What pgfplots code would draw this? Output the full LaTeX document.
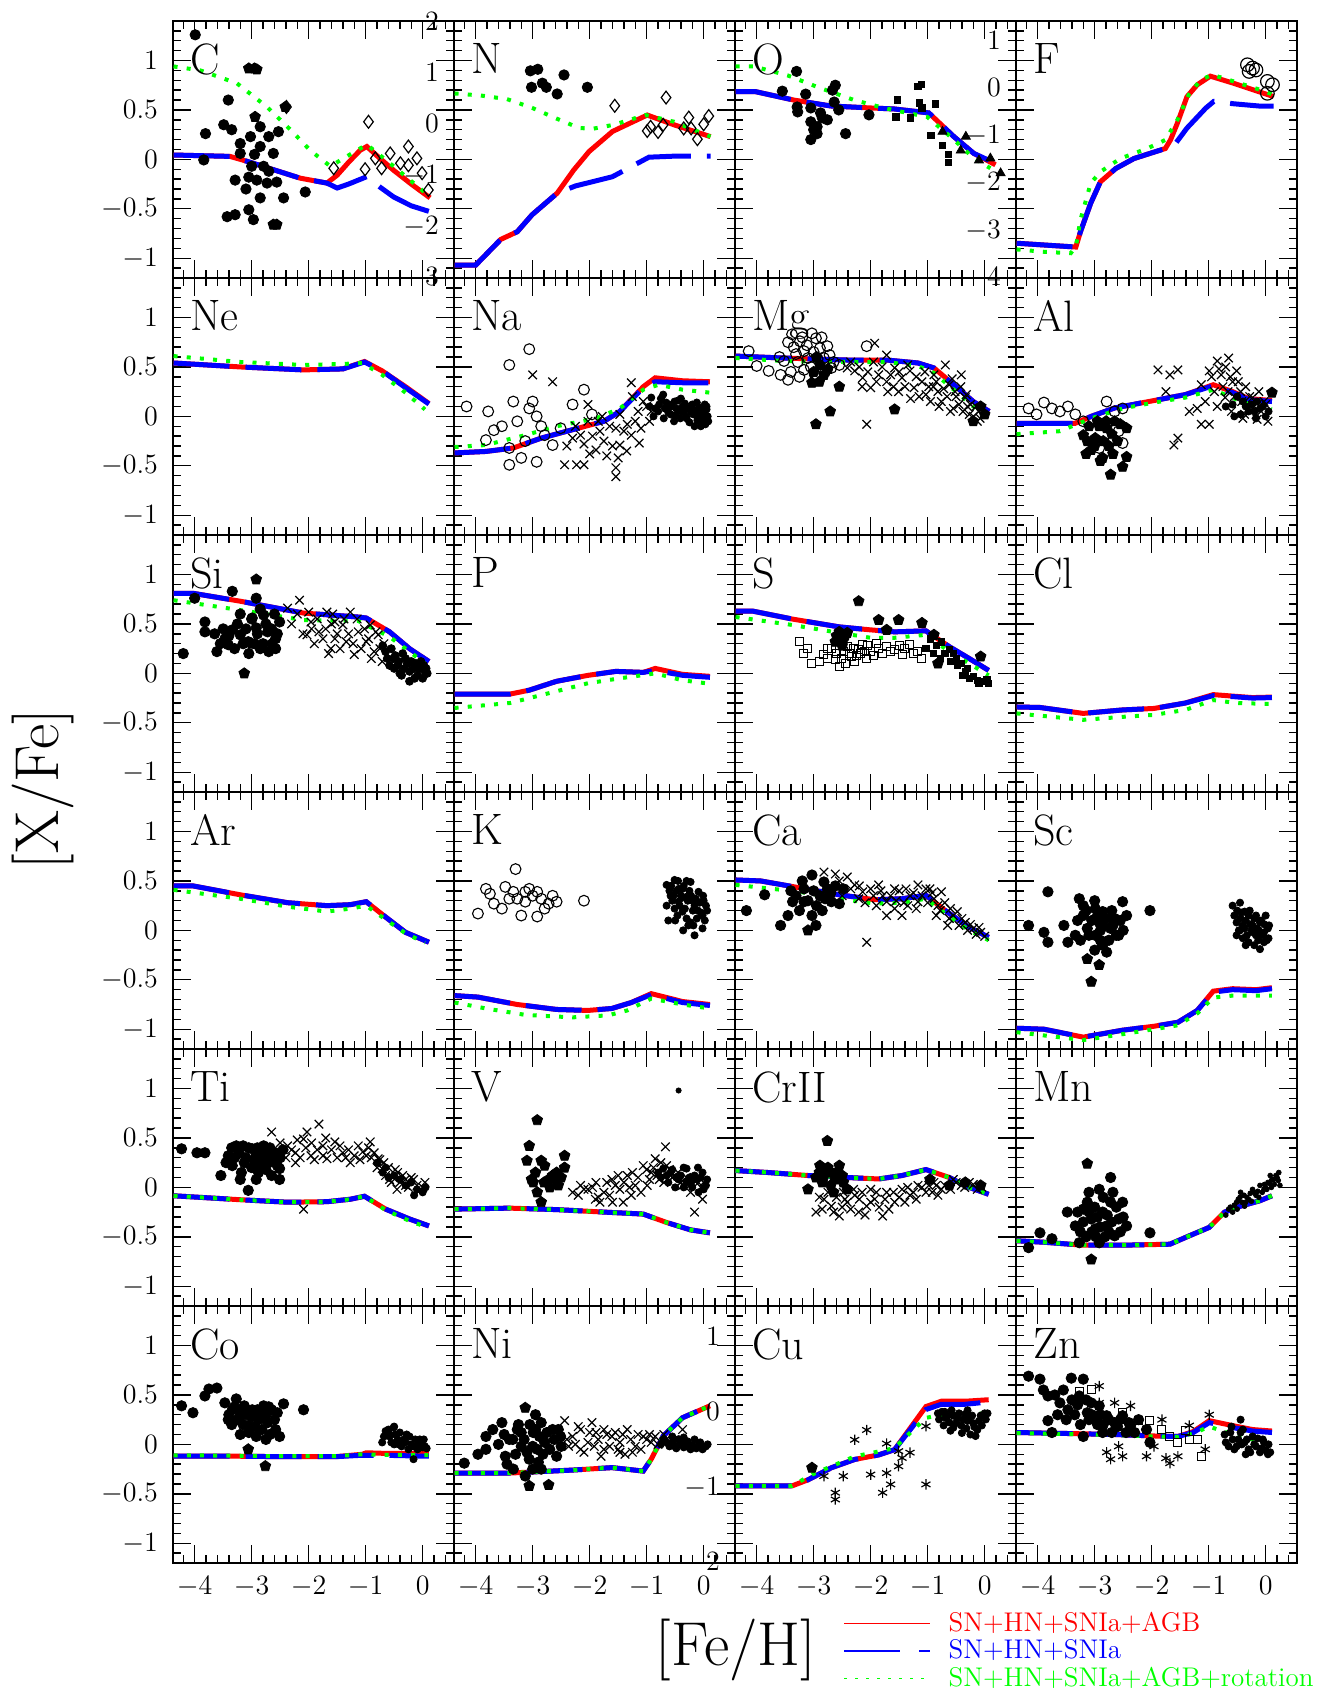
\RequirePackage{fix-cm}
\documentclass[border=0pt]{standalone}
\usepackage{pgfplots}
\pgfplotsset{compat=1.18}
\pgfplotsset{
  panel/.style={
    scale only axis, width=140.5pt, height=128.5pt,
    xmin=-4.38, xmax=0.55, ymin=-1.2, ymax=1.4,
    anchor=south west,
    axis line style={line width=1pt},
    tick style={black, line width=0.7pt},
    major tick length=9pt, minor tick length=4pt,
    tick align=inside, tick pos=both,
    xtick={-4,-3,-2,-1,0},
    minor xtick={-4.2,-3.8,-3.6,-3.4,-3.2,-2.8,-2.6,-2.4,-2.2,-1.8,-1.6,-1.4,-1.2,-0.8,-0.6,-0.4,-0.2,0.2,0.4},
    ytick={-1,-0.5,0,0.5,1},
    minor ytick={-1.1,-0.9,-0.8,-0.7,-0.6,-0.4,-0.3,-0.2,-0.1,0.1,0.2,0.3,0.4,0.6,0.7,0.8,0.9,1.1,1.2,1.3},
    xticklabels={}, yticklabels={},
    tick label style={font=\fontsize{14}{16}\selectfont},
    yticklabel style={xshift=-4pt},
    xticklabel style={yshift=-3.2pt},
    clip=true,
  },
  over/.style={
    scale only axis, width=140.5pt, height=128.5pt,
    xmin=-4.38, xmax=0.55, anchor=south west,
    axis line style={draw=none}, xtick=\empty,
    major tick length=0pt, minor tick length=0pt, tick style={draw=none},
    tick label style={font=\fontsize{14}{16}\selectfont},
    yticklabel style={xshift=-4pt}, clip=true,
  },
  leftcol/.style={yticklabels={$-1$,$-0.5$,$0$,$0.5$,$1$}},
  botrow/.style={xticklabels={$-4$,$-3$,$-2$,$-1$,$0$}},
  mred/.style={red, line width=2.5pt, no markers},
  mblue/.style={blue, line width=2.5pt, no markers, dash pattern=on 28pt off 8pt},
  mgreen/.style={green, line width=2pt, no markers, dash pattern=on 2pt off 4.6pt},
  fc/.style={only marks, mark=*, mark size=2.6pt, black},
  fp/.style={only marks, mark=pentagon*, mark size=2.8pt, black},
  oc/.style={only marks, mark=o, mark size=2.7pt, black, mark options={line width=0.55pt}},
  boc/.style={only marks, mark=o, mark size=3.4pt, black, mark options={line width=0.6pt}},
  od/.style={only marks, mark=diamond, mark size=3.2pt, black, mark options={line width=0.6pt}},
  cr/.style={only marks, mark=x, mark size=3pt, black, mark options={line width=0.6pt}},
  fs/.style={only marks, mark=square*, mark size=1.6pt, black},
  os/.style={only marks, mark=square, mark size=2pt, black, mark options={line width=0.5pt}},
  as/.style={only marks, mark=asterisk, mark size=2.6pt, black, mark options={line width=0.6pt}},
  ft/.style={only marks, mark=triangle*, mark size=2.6pt, black},
  sd/.style={only marks, mark=*, mark size=1.3pt, black},
  md/.style={only marks, mark=*, mark size=1.8pt, black},
}
\newcommand{\el}[1]{\node[anchor=north west, inner sep=0pt, xshift=8.5pt, yshift=-11pt, font=\fontsize{22}{22}\selectfont] at (rel axis cs:0,1) {#1};}
\begin{document}
\begin{tikzpicture}
\useasboundingbox (0,0) rectangle (666.5pt,844.5pt);

% ---------------- Row 1 ----------------
% C
\begin{axis}[panel, leftcol, at={(86.5pt,705.5pt)}]
\addplot[mred] coordinates {(-4.37,0.044)(-3.38,0.03)(-3.08,-0.02)(-2.15,-0.19)(-1.68,-0.24)(-1.5,-0.16)(-1.3,-0.03)(-1.1,0.09)(-0.98,0.13)(-0.75,0.01)(-0.51,-0.11)(-0.2,-0.25)(0.13,-0.39)};
\addplot[mblue] coordinates {(-4.37,0.044)(-3.38,0.03)(-3.08,-0.02)(-2.15,-0.19)(-1.68,-0.24)(-1.5,-0.29)(-1.3,-0.25)(-0.98,-0.175)(-0.75,-0.28)(-0.51,-0.38)(-0.2,-0.47)(0.13,-0.53)};
\addplot[mgreen] coordinates {(-4.37,0.94)(-3.9,0.9)(-3.26,0.77)(-2.73,0.53)(-2.32,0.30)(-1.97,0.09)(-1.62,-0.07)(-1.33,0.03)(-0.98,0.15)(-0.51,-0.07)(0.13,-0.38)};
\addplot[fc] coordinates {(-3.99,1.26)(-3.41,0.60)(-2.85,0.33)(-3.49,0.35)(-3.35,0.30)(-3.81,0.26)(-2.70,0.23)(-2.53,0.28)(-3.02,0.23)(-3.2,0.16)(-2.85,0.13)(-3.2,0.06)(-2.62,0.06)(-3.84,-0.006)(-3.0,-0.07)(-2.79,-0.07)(-3.29,-0.21)(-3.05,-0.18)(-2.91,-0.21)(-2.56,-0.23)(-2.73,-0.24)(-2.06,-0.33)(-2.85,-0.39)(-2.44,-0.39)(-3.43,-0.58)(-3.29,-0.56)(-3.05,-0.51)(-2.97,-0.61)(-3.1,-0.3)(-2.95,0.05)(-2.7,-0.12)};
\addplot[fp] coordinates {(-3.05,0.92)(-2.95,0.92)(-2.91,0.91)(-2.41,0.53)(-2.94,0.43)(-2.62,-0.66)(-2.56,-0.66)};
\addplot[od] coordinates {(-2.39,0.53)(-0.95,0.38)(-1.56,-0.09)(-1.01,-0.10)(-0.83,0.01)(-0.72,-0.09)(-0.25,0.13)(-0.39,-0.04)(-0.25,-0.06)(-0.10,0.01)(-0.01,-0.14)(0.10,-0.31)(-0.57,0.06)};
\el{C}
\end{axis}
% N
\begin{axis}[panel, at={(227pt,705.5pt)}]
\el{N}
\end{axis}
\begin{axis}[over, at={(227pt,705.5pt)}, ymin=-3, ymax=2, ytick={-3,-2,-1,0,1,2}, yticklabels={$-3$,$-2$,$-1$,$0$,$1$,$2$}]
\addplot[mred] coordinates {(-4.37,-2.75)(-4.0,-2.75)(-3.56,-2.25)(-3.27,-2.1)(-3.01,-1.77)(-2.57,-1.35)(-2.28,-0.9)(-2.01,-0.54)(-1.6,-0.15)(-0.99,0.17)(-0.52,-0.02)(0.12,-0.25)};
\addplot[mblue] coordinates {(-4.37,-2.75)(-4.0,-2.75)(-3.56,-2.25)(-3.27,-2.1)(-3.01,-1.77)(-2.57,-1.35)(-2.25,-1.21)(-1.6,-1.03)(-0.96,-0.65)(-0.52,-0.63)(0.12,-0.63)};
\addplot[mgreen] coordinates {(-4.37,0.59)(-3.91,0.55)(-3.45,0.48)(-3.01,0.31)(-2.6,0.11)(-2.19,-0.08)(-1.96,-0.1)(-1.58,-0.02)(-1.02,0.17)(-0.52,0.04)(0.12,-0.25)};
\addplot[fc] coordinates {(-3.04,1.03)(-2.91,1.06)(-3.02,0.71)(-2.83,0.79)(-2.76,0.71)(-2.57,0.58)(-2.45,0.95)(-2.04,0.71)};
\addplot[od] coordinates {(-1.56,0.35)(-0.66,0.51)(-0.99,-0.14)(-0.93,-0.06)(-0.8,-0.16)(-0.71,-0.02)(-0.35,-0.09)(-0.26,0.12)(-0.22,-0.09)(-0.11,-0.3)(0.0,-0.01)(0.09,0.15)};
\end{axis}
% O
\begin{axis}[panel, at={(367.5pt,705.5pt)}]
\addplot[mred] coordinates {(-4.37,0.685)(-4.02,0.685)(-3.35,0.6)(-2.7,0.54)(-2.0,0.52)(-1.59,0.51)(-0.98,0.47)(-0.54,0.23)(-0.19,0.06)(0.19,-0.055)};
\addplot[mblue] coordinates {(-4.37,0.685)(-4.02,0.685)(-3.35,0.6)(-2.7,0.54)(-2.0,0.52)(-1.59,0.51)(-0.98,0.47)(-0.54,0.23)(-0.19,0.06)(0.19,-0.04)};
\addplot[mgreen] coordinates {(-4.37,0.94)(-4.05,0.94)(-3.46,0.85)(-2.88,0.72)(-2.29,0.6)(-1.77,0.52)(-1.36,0.47)(-1.01,0.43)(-0.54,0.2)(-0.19,0.01)(0.1,-0.09)};
\addplot[fc] coordinates {(-3.3,0.89)(-3.55,0.69)(-3.14,0.66)(-2.62,0.75)(-2.67,0.7)(-3.29,0.53)(-3.28,0.48)(-3.05,0.52)(-2.88,0.47)(-2.64,0.58)(-2.56,0.5)(-3.05,0.38)(-2.94,0.33)(-2.76,0.4)(-2.94,0.26)(-3.05,0.2)(-2.44,0.26)(-2.03,0.45)(-3.0,0.3)(-2.85,0.42)};
\addplot[fs] coordinates {(-1.53,0.6)(-1.56,0.43)(-1.17,0.74)(-1.11,0.76)(-1.15,0.57)(-1.1,0.52)(-1.3,0.42)(-0.86,0.56)(-0.94,0.24)(-0.74,0.14)(-0.64,0.05)(-0.64,-0.03)};
\addplot[ft] coordinates {(-0.74,0.28)(-0.33,0.23)(-0.42,0.09)(0.1,0.01)(0.28,-0.14)(-0.1,-0.01)};
\el{O}
\end{axis}
% F
\begin{axis}[panel, at={(508pt,705.5pt)}]
\el{F}
\end{axis}
\begin{axis}[over, at={(508pt,705.5pt)}, ymin=-4, ymax=1.4, ytick={-4,-3,-2,-1,0,1}, yticklabels={$-4$,$-3$,$-2$,$-1$,$0$,$1$}]
\addplot[mred] coordinates {(-4.37,-3.27)(-3.33,-3.35)(-3.25,-3.03)(-3.07,-2.43)(-2.9,-1.98)(-2.63,-1.7)(-2.31,-1.49)(-1.76,-1.28)(-1.67,-1.1)(-1.55,-0.75)(-1.38,-0.19)(-1.2,0.06)(-0.97,0.24)(-0.56,0.09)(-0.21,-0.05)(0.14,-0.19)};
\addplot[mblue] coordinates {(-4.37,-3.27)(-3.33,-3.35)(-3.25,-3.03)(-3.07,-2.43)(-2.9,-1.98)(-2.63,-1.7)(-2.31,-1.49)(-1.76,-1.28)(-1.58,-1.17)(-1.38,-0.85)(-1.05,-0.43)(-0.91,-0.29)(-0.56,-0.34)(-0.09,-0.39)(0.14,-0.39)};
\addplot[mgreen] coordinates {(-4.37,-3.4)(-3.89,-3.45)(-3.42,-3.48)(-3.33,-3.34)(-3.25,-2.78)(-3.07,-2.01)(-2.9,-1.77)(-2.55,-1.49)(-2.08,-1.28)(-1.76,-1.1)(-1.55,-0.68)(-1.35,-0.15)(-1.14,0.16)(-0.94,0.27)(-0.56,0.13)(-0.09,-0.05)(0.14,-0.15)};
\addplot[boc] coordinates {(-0.32,0.48)(-0.23,0.41)(-0.17,0.37)(-0.29,0.34)(0.03,0.13)(0.12,0.06)(0.03,-0.12)};
\end{axis}

% ---------------- Row 2 ----------------
% Ne
\begin{axis}[panel, leftcol, at={(86.5pt,577pt)}]
\addplot[mred] coordinates {(-4.37,0.54)(-3.2,0.5)(-2.09,0.47)(-1.4,0.48)(-1.02,0.555)(-0.71,0.46)(-0.3,0.3)(0.11,0.13)};
\addplot[mblue] coordinates {(-4.37,0.54)(-3.2,0.5)(-2.09,0.47)(-1.4,0.48)(-1.02,0.55)(-0.71,0.46)(-0.3,0.29)(0.11,0.125)};
\addplot[mgreen] coordinates {(-4.37,0.61)(-3.2,0.55)(-2.09,0.52)(-1.4,0.53)(-1.06,0.54)(-0.71,0.42)(-0.3,0.24)(0.04,0.07)};
\el{Ne}
\end{axis}
% Na
\begin{axis}[panel, at={(227pt,577pt)}]
\addplot[mred] coordinates {(-4.37,-0.37)(-3.82,-0.355)(-3.34,-0.32)(-2.85,-0.22)(-2.3,-0.135)(-1.75,-0.05)(-1.47,0.05)(-1.06,0.3)(-0.85,0.39)(-0.37,0.36)(0.11,0.35)};
\addplot[mblue] coordinates {(-4.37,-0.37)(-3.82,-0.355)(-3.34,-0.32)(-2.85,-0.22)(-2.3,-0.135)(-1.75,-0.05)(-1.47,0.05)(-1.06,0.29)(-0.85,0.35)(-0.37,0.34)(0.11,0.34)};
\addplot[mgreen] coordinates {(-4.37,-0.31)(-3.82,-0.29)(-3.13,-0.19)(-2.58,-0.1)(-1.89,-0.02)(-1.47,0.08)(-1.06,0.27)(-0.79,0.32)(-0.37,0.27)(0.11,0.24)};
\addplot[oc] coordinates {(-4.16,0.10)(-3.41,0.52)(-3.06,0.68)(-3.78,0.05)(-3.82,-0.24)(-3.68,-0.14)(-3.41,-0.32)(-3.41,-0.49)(-3.2,-0.42)(-2.93,-0.46)(-3.34,0.15)(-3.27,-0.05)(-3.06,0.08)(-3.0,0.15)(-2.93,0.0)(-2.85,-0.1)(-2.79,-0.19)(-2.65,-0.29)(-3.13,-0.25)(-2.51,-0.12)(-2.3,0.12)(-2.1,0.27)(-1.96,0.02)(-3.54,-0.1)};
\addplot[cr] coordinates {(-3.0,0.42)(-2.65,0.35)(-2.44,-0.49)(-2.23,-0.49)(-2.1,-0.49)(-1.54,-0.52)(-1.54,-0.61)(-1.89,-0.34)(-1.75,-0.25)(-1.47,-0.29)(-1.27,-0.19)(-1.13,-0.27)(-1.34,-0.08)(-1.54,-0.12)(-1.82,-0.15)(-2.03,-0.05)(-2.16,-0.19)(-1.27,0.34)(-1.06,0.15)(-0.92,0.05)(-2.03,0.12)(-1.47,0.02)(-2.4,-0.3)(-2.25,-0.1)(-2.1,-0.28)(-1.95,-0.2)(-1.85,-0.05)(-1.7,-0.4)(-1.65,-0.1)(-1.6,-0.3)(-1.4,-0.15)(-1.35,-0.35)(-1.2,-0.05)(-1.15,0.05)(-1.1,-0.12)(-1.0,0.1)(-0.95,-0.05)(-1.25,0.2)(-2.3,-0.22)(-1.78,0.0)(-1.5,-0.42)(-2.0,-0.38)};
\addplot[md] coordinates {(-0.92,0.19)(-0.78,0.12)(-0.65,0.08)(-0.51,0.15)(-0.37,0.1)(-0.23,0.05)(-0.09,0.02)(-0.02,-0.05)(0.05,0.07)(-0.3,-0.02)(-0.58,0.02)(-0.44,0.05)(-0.85,0.08)(-0.71,0.22)(-0.16,-0.1)(0.05,0.1)(-0.6,0.12)(-0.4,0.18)(-0.2,0.12)(-0.05,-0.1)(0.08,-0.05)(-0.95,0.1)(-0.88,0.0)(-0.8,0.05)(-0.75,0.18)(-0.7,-0.02)(-0.66,0.14)(-0.62,0.04)(-0.56,0.1)(-0.52,-0.05)(-0.48,0.08)(-0.45,0.16)(-0.41,-0.02)(-0.36,0.04)(-0.33,0.13)(-0.28,0.08)(-0.25,-0.06)(-0.21,0.1)(-0.18,0.02)(-0.14,0.06)(-0.11,-0.04)(-0.07,0.09)(-0.04,0.0)(0.0,0.05)(0.03,-0.08)(0.07,0.0)(-0.68,0.08)(-0.5,0.01)(-0.3,0.0)(-0.12,0.14)(0.02,0.12)};
\el{Na}
\end{axis}
% Mg
\begin{axis}[panel, at={(367.5pt,577pt)}]
\addplot[mred] coordinates {(-4.37,0.61)(-3.52,0.59)(-2.41,0.57)(-1.72,0.57)(-1.17,0.54)(-0.89,0.49)(-0.48,0.29)(-0.2,0.15)(0.08,0.05)};
\addplot[mblue] coordinates {(-4.37,0.61)(-3.52,0.59)(-2.41,0.57)(-1.72,0.57)(-1.17,0.54)(-0.89,0.49)(-0.48,0.29)(-0.2,0.15)(0.08,0.05)};
\addplot[mgreen] coordinates {(-4.37,0.59)(-3.52,0.56)(-2.41,0.55)(-1.72,0.55)(-1.17,0.51)(-0.89,0.44)(-0.48,0.24)(-0.2,0.1)(0.08,0.0)};
\addplot[oc] coordinates {(-4.14,0.66)(-4.0,0.51)(-3.79,0.46)(-3.58,0.42)(-3.45,0.37)(-3.38,0.83)(-3.24,0.76)(-3.03,0.84)(-2.96,0.79)(-3.17,0.66)(-3.1,0.59)(-2.89,0.69)(-2.82,0.59)(-3.31,0.63)(-2.69,0.49)(-2.55,0.52)(-3.52,0.56)(-2.07,0.71)(-2.76,0.71)(-3.17,0.47)(-3.45,0.75)(-3.35,0.7)(-3.28,0.55)(-3.2,0.8)(-3.12,0.72)(-3.05,0.5)(-3.0,0.65)(-2.93,0.58)(-2.86,0.8)(-2.8,0.45)(-2.72,0.62)(-2.65,0.55)(-3.4,0.45)(-3.6,0.6)(-3.25,0.4)(-2.98,0.42)};
\addplot[fp] coordinates {(-2.96,-0.08)(-2.71,0.05)(-3.03,0.34)(-2.55,0.3)(-2.82,0.42)(-2.89,0.52)(-1.58,0.07)(-0.07,0.1)(-0.2,-0.05)(0.0,0.02)(-3.0,0.45)(-2.9,0.35)(-2.75,0.48)(-2.95,0.6)};
\addplot[cr] coordinates {(-1.93,0.74)(-2.07,-0.08)(-2.28,0.46)(-2.14,0.39)(-2.0,0.29)(-1.86,0.42)(-1.72,0.35)(-1.58,0.49)(-1.51,0.25)(-1.45,0.39)(-1.31,0.46)(-1.24,0.29)(-1.1,0.35)(-1.03,0.22)(-0.89,0.42)(-0.82,0.25)(-0.76,0.15)(-0.62,0.32)(-0.55,0.08)(-0.41,0.42)(-0.34,0.19)(-0.27,0.02)(-0.13,-0.05)(-1.72,0.62)(-2.41,0.49)(-0.69,0.52)(-0.5,0.2)(-0.3,0.1)(-0.1,0.05)(-0.9,0.3)(-2.35,0.55)(-2.2,0.5)(-2.05,0.45)(-1.95,0.55)(-1.9,0.35)(-1.8,0.5)(-1.65,0.42)(-1.6,0.3)(-1.5,0.45)(-1.4,0.3)(-1.35,0.52)(-1.2,0.4)(-1.15,0.2)(-1.05,0.45)(-0.98,0.3)(-0.95,0.15)(-0.85,0.35)(-0.8,0.1)(-0.72,0.28)(-0.66,0.2)(-0.6,0.05)(-0.57,0.38)(-0.52,0.25)(-0.45,0.12)(-0.42,0.3)(-0.38,0.05)(-0.32,0.22)(-0.25,0.12)(-0.2,0.0)(-0.15,0.1)(-0.08,-0.02)(-0.05,0.08)(-1.3,0.18)(-1.7,0.25)(-2.15,0.3)};
\el{Mg}
\end{axis}
% Al
\begin{axis}[panel, at={(508pt,577pt)}]
\addplot[mred] coordinates {(-4.37,-0.07)(-3.34,-0.07)(-3.06,0.0)(-2.65,0.085)(-1.96,0.16)(-1.41,0.22)(-0.92,0.32)(-0.58,0.25)(-0.3,0.18)(0.11,0.16)};
\addplot[mblue] coordinates {(-4.37,-0.07)(-3.34,-0.07)(-3.06,0.0)(-2.65,0.085)(-1.96,0.16)(-1.41,0.22)(-0.92,0.31)(-0.58,0.24)(-0.3,0.17)(0.11,0.15)};
\addplot[mgreen] coordinates {(-4.37,-0.18)(-3.61,-0.15)(-3.06,-0.02)(-2.51,0.08)(-1.96,0.14)(-1.41,0.19)(-0.92,0.27)(-0.51,0.17)(-0.17,0.1)(0.11,0.07)};
\addplot[oc] coordinates {(-4.16,0.08)(-3.89,0.14)(-3.75,0.08)(-3.61,0.05)(-3.47,0.1)(-3.34,0.02)(-4.02,0.02)(-3.2,-0.05)(-2.79,0.15)(-2.65,0.05)(-2.58,-0.15)(-2.51,-0.27)(-2.92,-0.32)(-2.51,0.08)};
\addplot[fp] coordinates {(-2.72,-0.59)(-2.86,-0.42)(-2.51,-0.51)(-2.44,-0.41)(-3.06,-0.34)(-2.99,-0.22)(-2.79,-0.12)(-2.44,-0.12)(-3.2,-0.19)(-2.92,-0.1)(-2.65,-0.05)(-3.13,-0.25)(0.11,0.24)(-3.1,-0.1)(-3.0,-0.3)(-2.95,-0.05)(-2.85,-0.25)(-2.8,-0.05)(-2.75,-0.3)(-2.7,-0.18)(-2.6,-0.25)(-2.55,-0.08)(-2.9,-0.45)(-3.15,-0.38)(-2.68,-0.38)};
\addplot[cr] coordinates {(-1.89,0.47)(-1.68,0.42)(-1.54,0.47)(-1.34,0.05)(-1.75,0.25)(-1.13,-0.08)(-0.99,-0.08)(-1.54,-0.22)(-1.61,-0.29)(-1.2,0.08)(-1.06,0.15)(-0.99,0.46)(-0.85,0.56)(-0.78,0.42)(-0.65,0.59)(-0.58,0.35)(-0.51,0.46)(-0.44,0.25)(-0.3,0.08)(-0.17,0.02)(-0.03,0.15)(0.04,-0.05)(-0.71,0.19)(-0.37,0.02)(-0.23,0.19)(-1.13,0.32)(-0.95,0.4)(-0.9,0.25)(-0.82,0.48)(-0.75,0.3)(-0.7,0.5)(-0.62,0.4)(-0.55,0.2)(-0.48,0.35)(-0.42,0.15)(-0.35,0.3)(-0.28,0.2)(-0.2,0.1)(-0.12,0.25)(-0.08,0.05)(0.0,0.12)(-0.6,0.05)(-0.4,-0.02)(-0.85,0.1)(-0.66,0.25)(-0.15,-0.03)};
\addplot[md] coordinates {(-0.58,0.12)(-0.3,0.05)(-0.1,0.08)(-0.44,0.02)(-0.17,-0.02)(-0.5,0.2)(-0.25,0.12)(0.0,0.0)(-0.7,0.1)(-0.55,0.0)(-0.35,0.1)(-0.2,0.05)(-0.05,0.1)(0.05,0.05)(-0.4,0.15)(-0.15,0.15)};
\el{Al}
\end{axis}

% ---------------- Row 3 ----------------
% Si
\begin{axis}[panel, leftcol, at={(86.5pt,448.5pt)}]
\addplot[mred] coordinates {(-4.37,0.81)(-4.03,0.81)(-3.2,0.73)(-2.09,0.61)(-1.13,0.57)(-0.99,0.56)(-0.58,0.42)(-0.23,0.25)(0.11,0.12)};
\addplot[mblue] coordinates {(-4.37,0.81)(-4.03,0.81)(-3.2,0.73)(-2.09,0.61)(-1.13,0.57)(-0.99,0.56)(-0.58,0.42)(-0.23,0.25)(0.11,0.12)};
\addplot[mgreen] coordinates {(-4.37,0.74)(-3.2,0.64)(-2.09,0.54)(-1.13,0.53)(-0.58,0.37)(-0.23,0.22)(0.04,0.1)};
\addplot[fc] coordinates {(-4.2,0.2)(-4.0,0.76)(-3.82,0.52)(-3.82,0.42)(-3.34,0.83)(-2.92,0.76)(-3.61,0.22)(-3.47,0.35)(-3.34,0.44)(-3.2,0.39)(-3.06,0.32)(-2.92,0.46)(-2.85,0.25)(-2.72,0.42)(-2.58,0.35)(-2.51,0.52)(-2.99,0.56)(-2.79,0.59)(-3.41,0.29)(-2.58,0.25)(-3.55,0.3)(-3.5,0.45)(-3.4,0.38)(-3.3,0.25)(-3.25,0.5)(-3.15,0.3)(-3.1,0.45)(-3.05,0.2)(-3.0,0.55)(-2.95,0.3)(-2.9,0.4)(-2.8,0.3)(-2.75,0.5)(-2.7,0.22)(-2.65,0.45)(-2.6,0.6)(-2.55,0.4)(-3.2,0.6)(-2.85,0.65)(-3.65,0.4)};
\addplot[fp] coordinates {(-2.92,0.95)(-3.13,0.0)(-3.0,0.3)(-2.65,0.3)};
\addplot[cr] coordinates {(-2.16,0.74)(-2.37,0.66)(-1.96,0.52)(-1.82,0.42)(-1.68,0.62)(-1.61,0.25)(-1.54,0.35)(-1.4,0.49)(-1.27,0.62)(-1.2,0.19)(-1.13,0.42)(-0.99,0.32)(-0.92,0.49)(-0.85,0.22)(-0.78,0.39)(-0.71,0.12)(-2.03,0.39)(-1.54,0.52)(-1.34,0.32)(-2.3,0.5)(-2.2,0.6)(-2.1,0.4)(-2.0,0.62)(-1.9,0.3)(-1.85,0.55)(-1.75,0.35)(-1.7,0.45)(-1.65,0.2)(-1.58,0.6)(-1.5,0.4)(-1.45,0.25)(-1.38,0.55)(-1.3,0.4)(-1.22,0.3)(-1.15,0.55)(-1.08,0.25)(-1.02,0.45)(-0.95,0.35)(-0.9,0.15)(-0.82,0.42)(-0.75,0.25)(-0.68,0.3)(-1.95,0.45)(-1.6,0.5)};
\addplot[fc, mark size=2pt] coordinates {(-0.65,0.22)(-0.51,0.15)(-0.44,0.08)(-0.37,-0.02)(-0.23,0.02)(-0.16,0.05)(-0.09,-0.02)(-0.03,0.12)(0.04,0.02)(-0.58,0.08)(-0.23,-0.08)(-0.3,0.15)(0.08,0.0)(-0.1,0.08)(-0.7,0.28)(-0.62,0.15)(-0.55,0.25)(-0.48,0.18)(-0.42,0.12)(-0.35,0.2)(-0.32,0.05)(-0.27,0.1)(-0.2,0.12)(-0.14,-0.05)(-0.12,0.1)(-0.06,0.05)(0.0,-0.05)(0.02,0.08)(0.06,0.05)(-0.4,0.0)(-0.5,0.05)};
\el{Si}
\end{axis}
% P
\begin{axis}[panel, at={(227pt,448.5pt)}]
\addplot[mred] coordinates {(-4.37,-0.21)(-3.4,-0.21)(-3.06,-0.17)(-2.58,-0.08)(-2.03,-0.02)(-1.54,0.02)(-1.06,0.01)(-0.85,0.05)(-0.37,-0.01)(0.11,-0.03)};
\addplot[mblue] coordinates {(-4.37,-0.21)(-3.4,-0.21)(-3.06,-0.17)(-2.58,-0.08)(-2.03,-0.02)(-1.54,0.02)(-1.06,0.01)(-0.85,0.03)(-0.37,-0.02)(0.11,-0.04)};
\addplot[mgreen] coordinates {(-4.37,-0.35)(-3.4,-0.3)(-2.85,-0.22)(-2.03,-0.1)(-1.47,-0.05)(-0.85,0.0)(-0.37,-0.07)(0.04,-0.1)};
\el{P}
\end{axis}
% S
\begin{axis}[panel, at={(367.5pt,448.5pt)}]
\addplot[mred] coordinates {(-4.37,0.63)(-4.07,0.63)(-3.38,0.55)(-2.55,0.47)(-2.0,0.44)(-1.58,0.42)(-1.03,0.43)(-0.62,0.27)(-0.27,0.15)(0.07,0.03)};
\addplot[mblue] coordinates {(-4.37,0.63)(-4.07,0.63)(-3.38,0.55)(-2.55,0.47)(-2.0,0.44)(-1.58,0.42)(-1.03,0.43)(-0.62,0.27)(-0.27,0.15)(0.07,0.03)};
\addplot[mgreen] coordinates {(-4.37,0.57)(-3.38,0.49)(-2.55,0.41)(-2.0,0.36)(-1.58,0.36)(-1.03,0.39)(-0.62,0.22)(-0.27,0.1)(0.07,-0.02)};
\addplot[os] coordinates {(-3.24,0.32)(-3.17,0.2)(-3.03,0.1)(-2.82,0.19)(-2.69,0.25)(-2.62,0.14)(-2.55,0.07)(-2.48,0.22)(-2.41,0.27)(-2.34,0.17)(-2.28,0.12)(-2.21,0.24)(-2.14,0.29)(-2.0,0.22)(-1.86,0.25)(-1.72,0.27)(-1.58,0.24)(-1.45,0.19)(-1.31,0.29)(-1.17,0.22)(-2.76,0.15)(-2.07,0.15)(-1.1,0.15)(-3.1,0.25)(-2.9,0.12)(-2.75,0.25)(-2.6,0.2)(-2.52,0.15)(-2.45,0.1)(-2.38,0.2)(-2.3,0.25)(-2.25,0.18)(-2.18,0.2)(-2.1,0.22)(-2.05,0.28)(-1.95,0.18)(-1.9,0.3)(-1.8,0.2)(-1.65,0.22)(-1.5,0.28)(-1.4,0.25)(-1.25,0.2)};
\addplot[fp] coordinates {(-2.21,0.73)(-1.86,0.54)(-1.51,0.54)(-1.72,0.44)(-2.55,0.42)(-2.62,0.32)(-2.48,0.35)(-2.41,0.41)(-0.82,0.1)(-0.07,0.17)(-1.1,0.51)(-0.89,0.39)(-2.6,0.38)(-2.5,0.28)(-2.45,0.38)};
\addplot[fs] coordinates {(-0.76,0.32)(-0.62,0.24)(-0.48,0.08)(-0.34,0.02)(-0.27,-0.05)(-0.13,-0.07)(0.0,-0.08)(0.07,-0.1)(-1.03,0.25)(-0.9,0.2)(-0.5,0.15)(-0.85,0.28)(-0.7,0.2)(-0.6,0.12)(-0.55,0.2)(-0.42,0.1)(-0.38,-0.02)(-0.3,0.05)(-0.2,-0.03)(-0.1,-0.1)(0.04,-0.06)(-0.95,0.35)(-0.78,0.15)};
\el{S}
\end{axis}
% Cl
\begin{axis}[panel, at={(508pt,448.5pt)}]
\addplot[mred] coordinates {(-4.37,-0.34)(-3.96,-0.345)(-3.2,-0.405)(-2.51,-0.37)(-1.96,-0.355)(-1.41,-0.3)(-0.92,-0.215)(-0.58,-0.23)(-0.23,-0.245)(0.11,-0.24)};
\addplot[mblue] coordinates {(-4.37,-0.34)(-3.96,-0.345)(-3.2,-0.405)(-2.51,-0.37)(-1.96,-0.355)(-1.41,-0.3)(-0.92,-0.225)(-0.58,-0.235)(-0.23,-0.25)(0.11,-0.245)};
\addplot[mgreen] coordinates {(-4.37,-0.405)(-3.2,-0.47)(-2.51,-0.44)(-1.96,-0.42)(-1.41,-0.37)(-0.92,-0.27)(-0.51,-0.3)(0.11,-0.31)};
\el{Cl}
\end{axis}

% ---------------- Row 4 ----------------
% Ar
\begin{axis}[panel, leftcol, at={(86.5pt,320pt)}]
\addplot[mred] coordinates {(-4.37,0.45)(-4.03,0.45)(-3.2,0.36)(-2.37,0.28)(-1.68,0.25)(-1.27,0.26)(-0.99,0.29)(-0.65,0.135)(-0.3,-0.02)(0.11,-0.12)};
\addplot[mblue] coordinates {(-4.37,0.45)(-4.03,0.45)(-3.2,0.36)(-2.37,0.28)(-1.68,0.25)(-1.27,0.26)(-0.99,0.29)(-0.65,0.135)(-0.3,-0.02)(0.11,-0.12)};
\addplot[mgreen] coordinates {(-4.37,0.41)(-3.2,0.32)(-2.37,0.24)(-1.68,0.19)(-1.27,0.22)(-0.99,0.25)(-0.65,0.11)(-0.3,-0.03)(0.04,-0.125)};
\el{Ar}
\end{axis}
% K
\begin{axis}[panel, at={(227pt,320pt)}]
\addplot[mred] coordinates {(-4.37,-0.66)(-3.96,-0.675)(-3.27,-0.75)(-2.58,-0.8)(-2.03,-0.81)(-1.61,-0.79)(-1.27,-0.73)(-0.92,-0.64)(-0.37,-0.72)(0.11,-0.75)};
\addplot[mblue] coordinates {(-4.37,-0.66)(-3.96,-0.675)(-3.27,-0.75)(-2.58,-0.8)(-2.03,-0.81)(-1.61,-0.79)(-1.27,-0.73)(-0.92,-0.65)(-0.37,-0.73)(0.11,-0.76)};
\addplot[mgreen] coordinates {(-4.37,-0.73)(-3.82,-0.79)(-3.13,-0.855)(-2.3,-0.88)(-1.68,-0.86)(-1.34,-0.81)(-0.92,-0.69)(-0.37,-0.75)(0.11,-0.79)};
\addplot[oc] coordinates {(-3.96,0.17)(-3.82,0.42)(-3.75,0.37)(-3.48,0.44)(-3.54,0.22)(-3.41,0.32)(-3.34,0.39)(-3.3,0.62)(-3.2,0.15)(-3.13,0.29)(-3.06,0.42)(-3.0,0.35)(-2.92,0.14)(-2.85,0.32)(-2.79,0.22)(-2.72,0.27)(-2.65,0.35)(-2.58,0.29)(-3.68,0.27)(-3.27,0.32)(-2.1,0.3)(-2.92,0.39)(-3.13,0.39)};
\addplot[md] coordinates {(-0.65,0.46)(-0.51,0.51)(-0.37,0.42)(-0.23,0.49)(-0.58,0.35)(-0.44,0.29)(-0.3,0.34)(-0.16,0.25)(-0.09,0.39)(-0.02,0.15)(-0.37,0.19)(-0.23,0.08)(-0.16,-0.05)(-0.51,0.22)(0.04,0.25)(-0.02,0.02)(-0.3,0.12)(-0.65,0.25)(-0.44,0.42)(-0.55,0.3)(-0.2,0.3)(-0.1,0.2)(-0.4,0.35)(-0.25,0.4)(0.0,0.3)(-0.6,0.4)(-0.62,0.1)(-0.57,0.45)(-0.53,0.35)(-0.48,0.4)(-0.46,0.15)(-0.42,0.25)(-0.38,0.33)(-0.35,0.45)(-0.33,0.22)(-0.28,0.3)(-0.27,0.05)(-0.22,0.35)(-0.19,0.2)(-0.14,0.32)(-0.12,0.12)(-0.07,0.28)(-0.05,0.18)(-0.01,0.35)(0.02,0.1)(-0.5,0.1)(-0.36,0.0)(-0.18,0.05)(0.06,0.2)(-0.3,0.5)(-0.45,0.5)};
\el{K}
\end{axis}
% Ca
\begin{axis}[panel, at={(367.5pt,320pt)}]
\addplot[mred] coordinates {(-4.37,0.51)(-3.93,0.5)(-3.24,0.43)(-2.55,0.36)(-1.93,0.31)(-1.45,0.32)(-1.03,0.355)(-0.69,0.2)(-0.27,0.03)(0.07,-0.07)};
\addplot[mblue] coordinates {(-4.37,0.51)(-3.93,0.5)(-3.24,0.43)(-2.55,0.36)(-1.93,0.31)(-1.45,0.32)(-1.03,0.355)(-0.69,0.2)(-0.27,0.03)(0.07,-0.07)};
\addplot[mgreen] coordinates {(-4.37,0.46)(-3.24,0.39)(-2.55,0.32)(-1.93,0.27)(-1.45,0.28)(-1.03,0.32)(-0.69,0.17)(-0.27,0.0)(0.07,-0.1)};
\addplot[fc] coordinates {(-4.18,0.2)(-3.86,0.36)(-3.58,0.05)(-3.37,0.29)(-3.17,0.42)(-3.03,0.15)(-2.96,0.05)(-3.03,0.56)(-2.89,0.35)(-2.76,0.42)(-2.69,0.29)(-2.55,0.27)(-3.17,0.29)(-3.31,0.35)(-2.82,0.49)(-2.48,0.42)(-3.45,0.15)(-3.4,0.4)(-3.25,0.2)(-3.1,0.3)(-3.0,0.4)(-2.95,0.25)(-2.85,0.2)(-2.8,0.32)(-2.7,0.38)(-2.62,0.45)(-3.2,0.5)};
\addplot[fp] coordinates {(-3.1,0.0)};
\addplot[cr] coordinates {(-2.82,0.59)(-2.62,0.57)(-2.41,0.54)(-2.28,0.46)(-2.07,-0.12)(-2.14,0.39)(-2.0,0.42)(-1.86,0.46)(-1.79,0.35)(-1.72,0.29)(-1.58,0.42)(-1.45,0.15)(-1.38,0.42)(-1.31,0.35)(-1.17,0.46)(-1.03,0.42)(-0.96,0.42)(-0.89,0.32)(-0.82,0.25)(-0.76,0.39)(-0.62,0.12)(-0.48,0.19)(-0.34,0.08)(-0.2,0.02)(-0.07,-0.02)(-1.72,0.15)(-1.17,0.29)(-2.21,0.32)(-1.58,0.22)(-2.7,0.4)(-2.55,0.5)(-2.5,0.35)(-2.35,0.42)(-2.2,0.45)(-2.1,0.28)(-1.95,0.35)(-1.9,0.25)(-1.82,0.4)(-1.65,0.35)(-1.55,0.3)(-1.5,0.4)(-1.42,0.28)(-1.35,0.25)(-1.25,0.38)(-1.2,0.22)(-1.1,0.35)(-1.0,0.28)(-0.92,0.38)(-0.85,0.15)(-0.78,0.2)(-0.7,0.28)(-0.65,0.05)(-0.55,0.15)(-0.45,0.05)(-0.4,0.12)(-0.3,0.0)(-0.25,0.06)(-0.15,-0.04)(-0.1,0.03)(0.0,-0.06)(-0.6,0.22)};
\el{Ca}
\end{axis}
% Sc
\begin{axis}[panel, at={(508pt,320pt)}]
\addplot[mred] coordinates {(-4.37,-0.99)(-3.89,-1.0)(-3.2,-1.08)(-2.51,-1.01)(-1.96,-0.97)(-1.54,-0.93)(-1.2,-0.81)(-0.92,-0.615)(-0.58,-0.59)(-0.17,-0.6)(0.11,-0.58)};
\addplot[mblue] coordinates {(-4.37,-0.99)(-3.89,-1.0)(-3.2,-1.08)(-2.51,-1.01)(-1.96,-0.97)(-1.54,-0.93)(-1.2,-0.81)(-0.92,-0.625)(-0.58,-0.6)(-0.17,-0.61)(0.11,-0.59)};
\addplot[mgreen] coordinates {(-4.37,-1.03)(-3.2,-1.11)(-2.51,-1.05)(-1.96,-1.0)(-1.54,-0.96)(-1.2,-0.84)(-0.92,-0.68)(-0.58,-0.66)(0.11,-0.66)};
\addplot[fc] coordinates {(-4.16,0.05)(-3.82,0.39)(-3.89,-0.02)(-3.82,-0.12)(-3.54,0.05)(-3.47,-0.12)(-3.27,0.32)(-3.2,0.15)(-3.13,0.02)(-2.99,-0.05)(-2.92,0.08)(-2.86,0.19)(-2.79,-0.22)(-2.72,0.02)(-2.65,0.12)(-2.51,0.29)(-2.58,-0.05)(-2.44,0.15)(-2.03,0.2)(-3.34,-0.05)(-2.86,-0.15)(-2.99,0.22)(-3.3,0.1)(-3.25,-0.1)(-3.15,0.2)(-3.1,-0.05)(-3.05,0.1)(-3.0,-0.2)(-2.95,0.15)(-2.9,0.0)(-2.85,0.05)(-2.8,0.12)(-2.75,-0.1)(-2.7,0.2)(-2.68,0.05)(-2.62,-0.05)(-2.55,0.1)(-2.5,0.0)(-3.0,0.3)(-2.9,-0.1)(-3.2,0.25)};
\addplot[fp] coordinates {(-3.13,-0.29)(-2.92,-0.35)(-3.06,-0.52)};
\addplot[md] coordinates {(-0.58,0.25)(-0.44,0.12)(-0.37,0.02)(-0.3,0.15)(-0.23,0.05)(-0.17,-0.05)(-0.1,0.08)(-0.03,-0.12)(0.04,0.02)(-0.51,-0.05)(-0.3,-0.12)(-0.1,-0.19)(-0.37,0.19)(-0.51,0.08)(-0.17,0.15)(-0.03,-0.02)(-0.45,0.0)(-0.25,0.0)(-0.12,0.0)(0.05,-0.08)(-0.4,-0.08)(-0.55,0.15)(-0.5,0.2)(-0.47,0.0)(-0.43,0.18)(-0.4,0.05)(-0.35,0.1)(-0.33,-0.05)(-0.28,0.2)(-0.27,0.06)(-0.22,-0.02)(-0.2,0.12)(-0.15,0.02)(-0.13,-0.1)(-0.08,0.1)(-0.06,-0.05)(-0.02,0.06)(0.02,-0.1)(0.06,0.05)(-0.35,-0.15)(-0.2,-0.15)(-0.45,0.28)(0.0,0.15)};
\el{Sc}
\end{axis}

% ---------------- Row 5 ----------------
% Ti
\begin{axis}[panel, leftcol, at={(86.5pt,191.5pt)}]
\addplot[mred] coordinates {(-4.37,-0.085)(-3.2,-0.125)(-2.37,-0.15)(-1.68,-0.145)(-1.27,-0.12)(-1.02,-0.09)(-0.65,-0.22)(-0.23,-0.32)(0.11,-0.39)};
\addplot[mblue] coordinates {(-4.37,-0.085)(-3.2,-0.125)(-2.37,-0.15)(-1.68,-0.145)(-1.27,-0.12)(-1.02,-0.09)(-0.65,-0.22)(-0.23,-0.32)(0.11,-0.39)};
\addplot[mgreen] coordinates {(-4.37,-0.085)(-3.2,-0.125)(-2.37,-0.15)(-1.68,-0.145)(-1.27,-0.12)(-1.02,-0.09)(-0.65,-0.23)(-0.23,-0.34)(0.11,-0.41)};
\addplot[fc] coordinates {(-4.23,0.39)(-3.96,0.35)(-3.82,0.35)(-3.54,0.12)(-3.41,0.32)(-3.27,0.42)(-3.13,0.25)(-3.06,-0.03)(-2.99,0.39)(-2.92,0.32)(-2.85,0.22)(-2.79,0.42)(-2.72,0.32)(-2.65,0.12)(-2.58,0.35)(-2.51,0.19)(-3.34,0.22)(-3.2,0.08)(-2.92,0.08)(-2.51,0.08)(-3.3,0.3)(-3.22,0.35)(-3.18,0.15)(-3.1,0.3)(-3.05,0.4)(-3.0,0.2)(-2.95,0.28)(-2.9,0.4)(-2.88,0.15)(-2.82,0.3)(-2.78,0.35)(-2.75,0.18)(-2.7,0.25)(-2.68,0.4)(-2.6,0.28)(-2.55,0.22)(-2.5,0.3)(-2.45,0.38)(-3.15,0.42)(-2.85,0.38)(-3.35,0.4)(-3.45,0.25)};
\addplot[cr] coordinates {(-2.65,0.56)(-2.37,0.42)(-2.23,0.25)(-2.09,0.49)(-2.03,0.56)(-1.82,0.64)(-1.75,0.42)(-1.68,0.29)(-1.54,0.46)(-1.4,0.35)(-1.27,0.25)(-1.13,0.42)(-0.99,0.32)(-0.92,0.46)(-0.78,0.29)(-0.71,0.19)(-0.58,0.08)(-0.44,0.15)(-0.3,0.02)(-0.16,0.08)(-0.03,-0.02)(0.04,0.05)(-2.09,-0.22)(-1.96,0.32)(-2.23,0.35)(-2.5,0.45)(-2.4,0.3)(-2.3,0.38)(-2.2,0.48)(-2.15,0.3)(-2.05,0.4)(-1.95,0.45)(-1.9,0.28)(-1.85,0.38)(-1.75,0.32)(-1.7,0.5)(-1.6,0.38)(-1.5,0.3)(-1.45,0.42)(-1.35,0.3)(-1.3,0.38)(-1.2,0.32)(-1.1,0.28)(-1.05,0.36)(-0.95,0.4)(-0.9,0.3)(-0.85,0.35)(-0.8,0.2)(-0.75,0.28)(-0.68,0.25)(-0.65,0.12)(-0.6,0.2)(-0.52,0.1)(-0.48,0.18)(-0.4,0.05)(-0.35,0.12)(-0.25,0.0)(-0.2,0.1)(-0.1,0.02)(0.0,0.0)(-0.45,-0.02)(-0.55,0.05)(-0.3,0.08)};
\addplot[md] coordinates {(-0.8,0.25)(-0.7,0.15)(-0.6,0.1)(-0.5,0.12)(-0.4,0.08)(-0.3,0.02)(-0.2,0.05)(-0.1,-0.02)(0.0,-0.05)(0.05,0.0)(-0.15,-0.08)(-0.65,0.2)};
\el{Ti}
\end{axis}
% V
\begin{axis}[panel, at={(227pt,191.5pt)}]
\addplot[mred] coordinates {(-4.37,-0.22)(-3.4,-0.21)(-2.58,-0.225)(-1.75,-0.25)(-1.06,-0.27)(-0.65,-0.355)(-0.23,-0.43)(0.11,-0.46)};
\addplot[mblue] coordinates {(-4.37,-0.22)(-3.4,-0.21)(-2.58,-0.225)(-1.75,-0.25)(-1.06,-0.27)(-0.65,-0.355)(-0.23,-0.43)(0.11,-0.46)};
\addplot[mgreen] coordinates {(-4.37,-0.22)(-3.4,-0.21)(-2.58,-0.225)(-1.75,-0.25)(-1.06,-0.27)(-0.65,-0.355)(-0.23,-0.43)(0.11,-0.46)};
\addplot[fp] coordinates {(-2.92,0.68)(-3.06,0.42)(-3.1,0.27)(-2.85,0.27)(-2.79,0.22)(-2.99,0.05)(-2.92,-0.05)(-2.85,-0.15)(-2.72,0.08)(-2.58,0.07)(-2.44,0.32)(-2.44,0.2)(-2.58,0.15)(-3.02,0.08)(-2.95,0.15)(-2.8,0.05)(-2.7,0.0)(-2.65,0.12)(-2.55,0.02)(-2.5,0.1)};
\addplot[sd] coordinates {(-0.44,0.98)};
\addplot[cr] coordinates {(-2.3,-0.05)(-2.16,0.02)(-2.03,-0.02)(-1.89,0.05)(-1.75,-0.05)(-1.61,0.08)(-1.47,-0.02)(-1.41,-0.15)(-1.34,0.12)(-1.2,0.02)(-1.06,0.22)(-0.92,0.15)(-0.85,0.29)(-0.78,0.08)(-0.67,0.41)(-0.65,0.22)(-0.51,0.12)(-0.37,0.02)(-0.23,-0.05)(-0.16,-0.25)(-0.09,0.05)(-0.02,-0.12)(-1.82,-0.15)(-1.27,-0.08)(-0.99,0.02)(-2.2,-0.08)(-2.1,-0.02)(-1.95,0.0)(-1.85,-0.1)(-1.7,0.05)(-1.65,-0.08)(-1.55,0.02)(-1.5,0.12)(-1.4,0.05)(-1.3,0.0)(-1.25,0.15)(-1.15,0.1)(-1.1,-0.05)(-1.0,0.18)(-0.95,0.08)(-0.88,0.2)(-0.82,0.12)(-0.75,0.25)(-0.7,0.05)(-0.6,0.18)(-0.55,0.1)(-0.45,0.15)(-0.4,0.05)(-0.3,0.1)(-0.25,0.02)(-0.15,0.08)(-0.05,0.0)(0.0,0.05)(-1.6,-0.15)(-1.9,-0.12)};
\addplot[md] coordinates {(-0.71,0.19)(-0.58,0.15)(-0.44,0.08)(-0.3,0.05)(-0.16,0.12)(-0.02,0.15)(0.04,0.02)(-0.3,0.19)(-0.09,-0.05)(-0.5,0.0)(-0.2,0.0)(-0.8,0.15)(-0.75,0.1)(-0.65,0.12)(-0.62,0.05)(-0.55,0.18)(-0.48,0.1)(-0.4,0.12)(-0.35,0.0)(-0.25,0.1)(-0.22,0.05)(-0.12,0.08)(-0.05,0.1)(0.0,-0.02)(0.06,0.08)(-0.1,0.2)(-0.35,0.2)};
\el{V}
\end{axis}
% CrII
\begin{axis}[panel, at={(367.5pt,191.5pt)}]
\addplot[mred] coordinates {(-4.37,0.17)(-3.79,0.15)(-3.1,0.12)(-2.41,0.1)(-1.86,0.085)(-1.45,0.12)(-1.03,0.18)(-0.62,0.1)(-0.27,0.0)(0.07,-0.07)};
\addplot[mblue] coordinates {(-4.37,0.17)(-3.79,0.15)(-3.1,0.12)(-2.41,0.1)(-1.86,0.085)(-1.45,0.12)(-1.03,0.18)(-0.62,0.1)(-0.27,0.0)(0.07,-0.07)};
\addplot[mgreen] coordinates {(-4.37,0.17)(-3.79,0.15)(-3.1,0.12)(-2.41,0.1)(-1.86,0.085)(-1.45,0.12)(-1.03,0.18)(-0.62,0.1)(-0.27,0.0)(0.07,-0.07)};
\addplot[fp] coordinates {(-2.76,0.47)(-3.1,-0.02)(-2.89,0.22)(-2.82,0.12)(-2.69,0.15)(-2.55,0.22)(-2.62,0.08)(-2.48,0.05)(-2.96,0.1)(-2.41,-0.02)(-0.96,0.08)(-0.62,0.02)(-0.34,0.05)(-0.07,0.02)(-2.85,0.05)(-2.75,0.2)(-2.7,0.02)(-2.6,0.15)(-2.5,0.12)(-2.9,0.15)(-2.65,-0.05)};
\addplot[cr] coordinates {(-2.96,-0.25)(-2.82,-0.12)(-2.69,-0.19)(-2.55,-0.29)(-2.41,-0.15)(-2.28,-0.08)(-2.21,-0.25)(-2.07,-0.19)(-1.93,-0.12)(-1.79,-0.29)(-1.72,-0.05)(-1.58,-0.15)(-1.45,-0.02)(-1.31,-0.08)(-1.17,0.02)(-1.03,-0.05)(-0.89,0.05)(-0.76,-0.02)(-0.55,0.08)(-0.41,0.02)(-0.27,0.05)(-0.13,-0.02)(-2.48,-0.05)(-2.0,-0.02)(-0.82,-0.08)(-2.9,-0.1)(-2.85,-0.22)(-2.75,-0.05)(-2.65,-0.25)(-2.6,-0.1)(-2.5,-0.2)(-2.45,-0.12)(-2.35,-0.22)(-2.3,-0.02)(-2.2,-0.12)(-2.15,-0.05)(-2.1,-0.28)(-2.0,-0.15)(-1.9,-0.05)(-1.85,-0.2)(-1.75,-0.12)(-1.68,-0.22)(-1.6,-0.05)(-1.5,-0.1)(-1.4,-0.15)(-1.35,0.0)(-1.25,-0.05)(-1.2,-0.12)(-1.1,0.0)(-0.98,0.02)(-0.92,-0.05)(-0.85,0.02)(-0.7,0.02)(-0.6,-0.02)(-0.5,0.05)(-0.35,0.0)(-0.2,0.03)(-0.05,0.0)};
\el{CrII}
\end{axis}
% Mn
\begin{axis}[panel, at={(508pt,191.5pt)}]
\addplot[mred] coordinates {(-4.37,-0.54)(-3.89,-0.555)(-3.2,-0.585)(-2.51,-0.585)(-1.68,-0.575)(-1.34,-0.49)(-0.99,-0.405)(-0.72,-0.25)(-0.44,-0.19)(-0.1,-0.135)(0.11,-0.085)};
\addplot[mblue] coordinates {(-4.37,-0.54)(-3.89,-0.555)(-3.2,-0.585)(-2.51,-0.585)(-1.68,-0.575)(-1.34,-0.49)(-0.99,-0.405)(-0.72,-0.25)(-0.44,-0.19)(-0.1,-0.135)(0.11,-0.085)};
\addplot[mgreen] coordinates {(-4.37,-0.54)(-3.89,-0.555)(-3.2,-0.585)(-2.51,-0.585)(-1.68,-0.575)(-1.34,-0.49)(-0.99,-0.405)(-0.72,-0.25)(-0.44,-0.19)(-0.1,-0.135)(0.11,-0.085)};
\addplot[fc] coordinates {(-4.16,-0.61)(-3.96,-0.46)(-3.75,-0.52)(-3.48,-0.25)(-3.34,-0.39)(-3.27,-0.56)(-3.13,-0.15)(-3.06,-0.32)(-2.99,-0.42)(-2.92,-0.02)(-2.86,-0.25)(-2.79,-0.39)(-2.72,-0.15)(-2.65,-0.49)(-2.58,-0.32)(-2.51,-0.15)(-2.44,-0.39)(-2.72,0.1)(-2.03,-0.46)(-3.2,-0.22)(-2.92,-0.56)(-3.3,-0.25)(-3.25,-0.45)(-3.2,-0.35)(-3.15,-0.5)(-3.1,-0.25)(-3.05,-0.45)(-3.0,-0.2)(-2.98,-0.5)(-2.95,-0.3)(-2.9,-0.4)(-2.85,-0.1)(-2.82,-0.5)(-2.78,-0.28)(-2.75,-0.45)(-2.7,-0.35)(-2.68,-0.05)(-2.62,-0.2)(-2.55,-0.45)(-2.5,-0.3)(-3.1,-0.05)};
\addplot[fp] coordinates {(-3.13,0.24)(-3.06,-0.73)};
\addplot[sd, mark size=1.2pt] coordinates {(-0.65,-0.22)(-0.51,-0.15)(-0.44,-0.05)(-0.3,-0.12)(-0.23,-0.02)(-0.17,-0.08)(-0.03,-0.02)(0.04,0.05)(0.11,0.08)(0.18,0.12)(0.25,0.02)(-0.1,0.02)(-0.37,-0.19)(-0.58,-0.25)(0.22,0.07)(-0.45,-0.1)(-0.2,-0.05)(0.0,0.0)(0.15,0.03)(-0.7,-0.28)(-0.62,-0.2)(-0.55,-0.18)(-0.48,-0.12)(-0.42,-0.15)(-0.38,-0.08)(-0.33,-0.1)(-0.27,-0.06)(-0.25,-0.14)(-0.14,-0.04)(-0.12,-0.1)(-0.06,-0.05)(-0.02,0.03)(0.02,-0.02)(0.07,0.04)(0.1,0.0)(0.14,0.08)(0.2,0.1)(0.23,0.15)(0.08,0.12)(-0.5,-0.22)(-0.35,-0.15)};
\el{Mn}
\end{axis}

% ---------------- Row 6 ----------------
% Co
\begin{axis}[panel, leftcol, botrow, at={(86.5pt,63pt)}]
\addplot[mred] coordinates {(-4.37,-0.12)(-3.2,-0.12)(-2.37,-0.125)(-1.54,-0.125)(-1.06,-0.1)(-0.99,-0.085)(-0.71,-0.09)(0.11,-0.09)};
\addplot[mblue] coordinates {(-4.37,-0.12)(-3.2,-0.12)(-2.37,-0.125)(-1.54,-0.125)(-1.06,-0.11)(-0.71,-0.11)(0.11,-0.12)};
\addplot[mgreen] coordinates {(-4.37,-0.11)(-3.2,-0.115)(-2.37,-0.12)(-1.54,-0.12)(-1.06,-0.1)(-0.71,-0.105)(0.11,-0.11)};
\addplot[fc] coordinates {(-4.23,0.39)(-4.03,0.32)(-3.82,0.49)(-3.75,0.56)(-3.61,0.57)(-3.47,0.42)(-3.41,0.25)(-3.34,0.35)(-3.27,0.46)(-3.2,0.29)(-3.13,0.39)(-3.06,0.19)(-2.99,0.35)(-2.92,0.08)(-2.85,0.29)(-2.79,0.39)(-2.72,0.22)(-2.65,0.35)(-2.58,0.15)(-2.51,0.08)(-2.44,0.41)(-2.09,0.35)(-3.4,0.3)(-3.35,0.2)(-3.3,0.38)(-3.25,0.25)(-3.2,0.35)(-3.15,0.2)(-3.1,0.3)(-3.05,0.12)(-3.0,0.28)(-2.95,0.18)(-2.9,0.35)(-2.88,0.25)(-2.82,0.15)(-2.75,0.3)(-2.7,0.38)(-2.68,0.1)(-2.6,0.25)(-2.55,0.32)(-2.75,0.05)(-3.2,0.1)};
\addplot[fp] coordinates {(-2.76,-0.22)(-3.06,-0.05)};
\addplot[md] coordinates {(-0.65,0.135)(-0.51,0.17)(-0.58,0.08)(-0.44,0.05)(-0.3,0.02)(-0.23,0.08)(-0.16,-0.02)(-0.09,-0.05)(-0.03,0.02)(0.04,-0.02)(-0.16,-0.15)(-0.37,-0.02)(-0.71,0.02)(-0.5,0.0)(-0.25,-0.05)(-0.68,0.08)(-0.6,0.12)(-0.55,0.02)(-0.48,0.1)(-0.42,0.0)(-0.4,0.12)(-0.33,0.05)(-0.28,0.1)(-0.2,0.0)(-0.13,0.05)(-0.1,-0.02)(-0.05,0.05)(0.0,-0.03)(0.02,0.05)(0.07,-0.04)(-0.6,0.15)(-0.5,0.18)};
\el{Co}
\end{axis}
% Ni
\begin{axis}[panel, botrow, at={(227pt,63pt)}]
\addplot[mred] coordinates {(-4.37,-0.29)(-3.4,-0.29)(-2.3,-0.26)(-1.61,-0.235)(-1.06,-0.27)(-0.92,-0.15)(-0.71,0.085)(-0.37,0.27)(0.11,0.39)};
\addplot[mblue] coordinates {(-4.37,-0.29)(-3.4,-0.29)(-2.3,-0.26)(-1.61,-0.235)(-1.06,-0.27)(-0.92,-0.15)(-0.71,0.085)(-0.37,0.27)(0.11,0.39)};
\addplot[mgreen] coordinates {(-4.37,-0.29)(-3.4,-0.29)(-2.3,-0.26)(-1.61,-0.235)(-1.06,-0.27)(-0.92,-0.15)(-0.71,0.085)(-0.37,0.27)(0.11,0.39)};
\addplot[fc] coordinates {(-4.2,-0.19)(-3.96,-0.1)(-3.82,0.08)(-3.82,-0.05)(-3.54,0.22)(-3.48,-0.12)(-3.41,0.05)(-3.27,0.15)(-3.2,-0.02)(-3.06,-0.15)(-2.99,0.12)(-2.92,-0.05)(-2.85,0.22)(-2.79,0.02)(-2.65,0.15)(-2.58,-0.12)(-2.51,0.08)(-3.34,-0.25)(-2.85,-0.25)(-3.13,-0.32)(-3.6,0.0)(-3.5,0.1)(-3.45,-0.2)(-3.35,0.05)(-3.3,-0.1)(-3.25,0.2)(-3.15,0.05)(-3.1,-0.08)(-3.05,0.2)(-3.0,-0.02)(-2.95,0.15)(-2.9,-0.18)(-2.88,0.08)(-2.82,-0.1)(-2.75,0.12)(-2.7,-0.05)(-2.62,0.05)(-2.55,0.15)(-2.5,-0.02)(-3.2,0.12)(-3.0,-0.25)(-2.95,0.3)(-3.7,0.15)};
\addplot[fp] coordinates {(-3.13,0.37)(-3.06,-0.42)(-2.72,-0.41)};
\addplot[cr] coordinates {(-2.44,0.24)(-2.3,0.08)(-2.16,0.15)(-2.03,0.02)(-1.89,0.12)(-1.75,-0.05)(-1.61,0.08)(-1.47,0.02)(-1.34,0.15)(-1.2,-0.02)(-1.06,0.08)(-0.92,0.02)(-0.65,0.05)(-0.37,0.15)(-2.16,-0.05)(-1.47,-0.08)(-1.75,0.15)(-2.37,-0.02)(-1.96,0.22)(-2.4,0.05)(-2.25,0.0)(-2.2,0.18)(-2.1,-0.08)(-2.0,0.12)(-1.92,-0.02)(-1.85,0.05)(-1.8,-0.12)(-1.7,0.1)(-1.65,-0.02)(-1.55,0.12)(-1.5,-0.05)(-1.42,0.1)(-1.38,-0.1)(-1.28,0.05)(-1.25,-0.08)(-1.15,0.1)(-1.1,-0.05)(-1.0,0.05)(-0.95,0.1)(-0.85,0.08)(-0.8,0.0)(-0.7,0.1)(-0.5,0.05)(-0.3,0.0)};
\addplot[md] coordinates {(-0.65,0.02)(-0.51,-0.02)(-0.37,0.02)(-0.23,-0.05)(-0.09,0.0)(0.04,-0.02)(-0.16,0.05)(-0.02,-0.05)(-0.45,0.05)(-0.3,-0.02)(-0.75,0.0)(-0.7,0.05)(-0.6,-0.02)(-0.55,0.02)(-0.48,-0.04)(-0.42,0.0)(-0.35,-0.03)(-0.28,0.03)(-0.2,-0.01)(-0.13,-0.04)(-0.06,0.02)(0.0,-0.03)(0.07,0.0)(-0.55,0.08)(-0.35,0.07)};
\el{Ni}
\end{axis}
% Cu
\begin{axis}[panel, botrow, at={(367.5pt,63pt)}]
\el{Cu}
\end{axis}
\begin{axis}[over, at={(367.5pt,63pt)}, ymin=-2, ymax=1.4, ytick={-2,-1,0,1}, yticklabels={$-2$,$-1$,$0$,$1$}]
\addplot[mred] coordinates {(-4.37,-0.98)(-3.38,-0.98)(-3.1,-0.9)(-2.69,-0.74)(-2.28,-0.63)(-1.86,-0.57)(-1.58,-0.5)(-1.31,-0.22)(-1.03,0.07)(-0.76,0.14)(-0.34,0.14)(0.07,0.16)};
\addplot[mblue] coordinates {(-4.37,-0.98)(-3.38,-0.98)(-3.1,-0.9)(-2.69,-0.74)(-2.28,-0.63)(-1.86,-0.57)(-1.58,-0.5)(-1.31,-0.24)(-1.03,0.03)(-0.76,0.1)(-0.34,0.1)(0.07,0.13)};
\addplot[mgreen] coordinates {(-4.37,-0.98)(-3.38,-0.98)(-3.03,-0.83)(-2.28,-0.59)(-1.58,-0.48)(-1.31,-0.28)(-1.03,-0.08)(-0.76,-0.04)(0.07,-0.02)};
\addplot[as] coordinates {(-2.82,-0.85)(-2.62,-1.07)(-2.62,-1.16)(-2.48,-0.85)(-2.28,-0.37)(-2.07,-0.24)(-2.0,-0.83)(-1.79,-1.07)(-1.72,-0.81)(-1.65,-0.96)(-1.72,-0.42)(-1.51,-0.52)(-1.51,-0.72)(-1.45,-0.61)(-1.31,-0.54)(-1.03,-0.96)(-1.03,-0.19)};
\addplot[fp] coordinates {(-3.03,-0.74)};
\addplot[md] coordinates {(-0.82,-0.02)(-0.69,-0.08)(-0.62,-0.14)(-0.55,-0.05)(-0.48,-0.09)(-0.41,-0.18)(-0.34,-0.03)(-0.27,-0.08)(-0.2,-0.15)(-0.13,-0.24)(-0.07,-0.05)(0.0,-0.02)(-0.16,-0.32)(-0.55,-0.21)(-0.7,0.0)(-0.3,0.02)(-0.8,-0.1)(-0.75,0.0)(-0.72,-0.18)(-0.65,-0.05)(-0.6,-0.25)(-0.58,0.02)(-0.5,-0.15)(-0.45,-0.02)(-0.38,-0.1)(-0.32,-0.22)(-0.3,-0.12)(-0.22,-0.05)(-0.18,-0.2)(-0.1,-0.12)(-0.05,-0.18)(0.02,-0.1)(0.05,-0.02)(-0.4,-0.28)(-0.25,-0.3)};
\end{axis}
% Zn
\begin{axis}[panel, botrow, at={(508pt,63pt)},
  legend style={at={(rel axis cs:-0.6157,-0.183)}, anchor=north west, draw=none, fill=none, inner sep=0pt, row sep=0.6pt, column sep=8pt, font=\fontsize{13.5}{14}\selectfont, cells={anchor=west}, nodes={inner sep=1pt}},
  legend image code/.code={\draw[#1] (0pt,0pt) -- (43pt,0pt);}]
\addlegendimage{red, line width=0.6pt}
\addlegendentry{\textcolor{red}{SN+HN+SNIa+AGB}}
\addlegendimage{blue, line width=0.6pt, dash pattern=on 28pt off 9.5pt on 5.5pt off 9.5pt}
\addlegendentry{\textcolor{blue}{SN+HN+SNIa}}
\addlegendimage{green, line width=0.6pt, dash pattern=on 1.5pt off 4pt}
\addlegendentry{\textcolor{green}{SN+HN+SNIa+AGB+rotation}}
\addplot[mred] coordinates {(-4.37,0.12)(-3.47,0.11)(-2.65,0.1)(-1.96,0.085)(-1.54,0.08)(-1.27,0.13)(-0.99,0.24)(-0.58,0.19)(-0.23,0.15)(0.11,0.135)};
\addplot[mblue] coordinates {(-4.37,0.12)(-3.47,0.11)(-2.65,0.1)(-1.96,0.085)(-1.54,0.08)(-1.27,0.12)(-0.99,0.22)(-0.58,0.17)(-0.23,0.135)(0.11,0.12)};
\addplot[mgreen] coordinates {(-4.37,0.115)(-3.47,0.105)(-2.65,0.095)(-1.96,0.08)(-1.54,0.075)(-1.27,0.11)(-0.99,0.18)(-0.58,0.1)(-0.23,0.05)(0.11,0.0)};
\addplot[fc] coordinates {(-4.16,0.69)(-3.96,0.66)(-3.82,0.49)(-3.82,0.24)(-3.61,0.42)(-3.47,0.35)(-3.41,0.67)(-3.27,0.49)(-3.2,0.66)(-3.13,0.32)(-3.06,0.42)(-2.99,0.25)(-2.92,0.39)(-2.79,0.29)(-2.65,0.22)(-2.51,0.29)(-2.37,0.19)(-2.23,0.25)(-2.09,0.15)(-2.03,0.02)(-3.2,0.08)(-2.86,0.12)(-3.9,0.55)(-3.7,0.5)(-3.65,0.3)(-3.55,0.55)(-3.5,0.25)(-3.4,0.45)(-3.35,0.3)(-3.3,0.4)(-3.25,0.2)(-3.15,0.45)(-3.1,0.25)(-3.05,0.3)(-2.95,0.2)(-2.9,0.3)(-2.85,0.2)(-2.75,0.25)(-2.7,0.12)(-2.6,0.18)(-2.55,0.25)(-2.45,0.12)(-2.4,0.22)(-2.3,0.12)(-3.75,0.12)};
\addplot[os] coordinates {(-3.27,0.54)(-3.06,0.56)(-2.51,0.32)(-2.23,0.24)(-2.03,0.24)(-1.82,0.15)(-1.68,0.08)(-1.54,0.02)(-1.34,0.05)(-1.2,0.05)(-1.13,-0.12)(-1.41,0.14)};
\addplot[as] coordinates {(-2.92,0.59)(-2.92,0.42)(-2.65,0.42)(-2.37,0.39)(-2.79,-0.08)(-2.72,-0.15)(-2.58,-0.02)(-2.51,-0.12)(-2.09,-0.12)(-1.82,0.25)(-1.75,-0.14)(-1.68,-0.19)(-1.54,-0.12)(-1.34,0.19)(-1.06,-0.05)(-0.99,0.3)(-1.96,-0.02)};
\addplot[md] coordinates {(-0.72,0.1)(-0.58,0.05)(-0.51,-0.02)(-0.44,0.12)(-0.37,0.02)(-0.3,-0.05)(-0.23,0.08)(-0.17,-0.02)(-0.1,-0.08)(-0.03,0.02)(0.04,-0.1)(-0.44,0.25)(-0.65,-0.02)(-0.7,0.02)(-0.62,0.12)(-0.55,-0.05)(-0.48,0.05)(-0.42,0.0)(-0.4,0.15)(-0.33,0.05)(-0.27,-0.08)(-0.2,0.0)(-0.14,0.06)(-0.07,-0.04)(-0.05,0.05)(0.0,-0.06)(0.05,0.0)(0.08,-0.08)(-0.35,-0.1)(-0.6,0.18)};
\el{Zn}
\end{axis}

% axis titles
\node[rotate=90, font=\fontsize{31}{31}\selectfont] at (21.5pt,450pt) {[X/Fe]};
\node[font=\fontsize{31}{31}\selectfont] at (368pt,19.5pt) {[Fe/H]};
\end{tikzpicture}
\end{document}
